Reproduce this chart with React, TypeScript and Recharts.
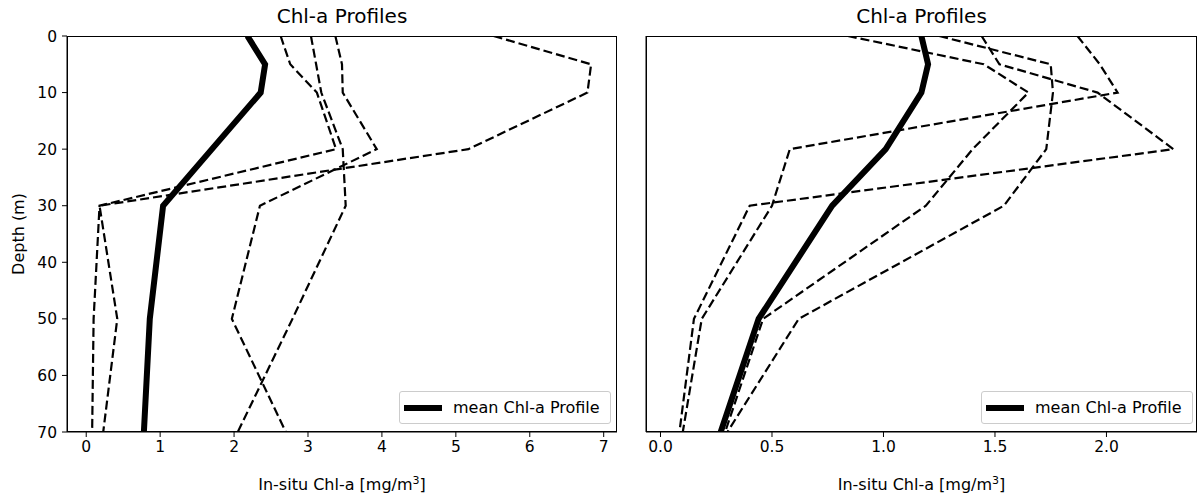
import * as React from "react";
import { LineChart, Line, XAxis, YAxis, Legend } from "recharts";

// depth levels (m) shared by every profile
const depths = [0, 5, 10, 20, 30, 50, 70];

// left panel, Chl-a in mg/m3
const leftMean = [2.18, 2.42, 2.36, 1.7, 1.04, 0.86, 0.78];
const leftProfile1 = [5.51, 6.83, 6.78, 5.17, 0.18, 0.42, 0.23];
const leftProfile2 = [2.63, 2.76, 3.12, 3.38, 0.18, 0.1, 0.08];
const leftProfile3 = [3.04, 3.11, 3.18, 3.47, 3.51, 2.79, 2.05];
const leftProfile4 = [3.37, 3.46, 3.47, 3.93, 2.35, 1.97, 2.7];

// right panel
const rightMean = [1.17, 1.2, 1.17, 1.01, 0.77, 0.44, 0.27];
const rightProfile1 = [0.84, 1.45, 1.65, 1.4, 1.19, 0.46, 0.29];
const rightProfile2 = [1.25, 1.75, 1.76, 1.73, 1.54, 0.62, 0.3];
const rightProfile3 = [1.44, 1.52, 1.96, 2.3, 0.4, 0.15, 0.085];
const rightProfile4 = [1.87, 1.97, 2.05, 0.58, 0.5, 0.185, 0.1];

const depthTicks = [0, 10, 20, 30, 40, 50, 60, 70];
const leftXTicks = [0, 1, 2, 3, 4, 5, 6, 7];
const rightXTicks = [0, 0.5, 1, 1.5, 2];

const TITLE = "Chl-a Profiles";
const MEAN_NAME = "mean Chl-a Profile";

const buildRows = (mean: number[], profiles: number[][]) =>
  depths.map((depth, i) => {
    const row: Record<string, number> = { depth, mean: mean[i] };
    profiles.forEach((p, k) => {
      row[`p${k}`] = p[i];
    });
    return row;
  });

const leftRows = buildRows(leftMean, [leftProfile1, leftProfile2, leftProfile3, leftProfile4]);
const rightRows = buildRows(rightMean, [rightProfile1, rightProfile2, rightProfile3, rightProfile4]);

const FONT = "'DejaVu Sans', sans-serif";
const tickStyle = { fill: "#000", fontSize: 15.5 };

const XLabel = ({ viewBox }: any) => {
  const cx = viewBox.x + viewBox.width / 2;
  return (
    <text x={cx} y={viewBox.y + 58} textAnchor="middle" fontSize={16} fill="#000">
      In-situ Chl-a [mg/m
      <tspan dy={-6} fontSize={11}>3</tspan>
      <tspan dy={6}>]</tspan>
    </text>
  );
};

const YLabel = ({ viewBox }: any) => (
  <text
    transform={`translate(${viewBox.x + 18}, ${viewBox.y + viewBox.height / 2}) rotate(-90)`}
    textAnchor="middle"
    dominantBaseline="central"
    fontSize={16}
    fill="#000"
  >
    Depth (m)
  </text>
);

const renderLegend = (props: any) => {
  const items = (props.payload || []).filter((p: any) => p.type !== "none");
  return (
    <div
      style={{
        position: "relative",
        width: 212,
        height: 33,
        boxSizing: "border-box",
        border: "1px solid #ccc",
        borderRadius: 3,
        background: "rgba(255,255,255,0.8)",
        fontFamily: FONT,
        fontSize: 16,
      }}
    >
      {items.map((item: any) => (
        <React.Fragment key={item.value}>
          <svg width={44} height={33} style={{ position: "absolute", left: 0, top: 0 }}>
            <line x1={4} y1={16} x2={42} y2={16} stroke="#000" strokeWidth={6} />
          </svg>
          <span style={{ position: "absolute", left: 53, top: 6, whiteSpace: "nowrap", color: "#000" }}>
            {item.value}
          </span>
        </React.Fragment>
      ))}
    </div>
  );
};

interface PanelProps {
  rows: any[];
  width: number;
  yWidth: number;
  xDomain: [number, number];
  xTicks: number[];
  showDepthLabels: boolean;
  legendLeft: number;
  tickFormat: (v: number) => string;
}

function ProfilePanel({ rows, width, yWidth, xDomain, xTicks, showDepthLabels, legendLeft, tickFormat }: PanelProps) {
  const height = 497;
  const margin = { top: 36, right: width === 620 ? 3 : 1, bottom: 5, left: 0 };
  const plotW = width - yWidth - margin.right;
  const plotH = height - margin.top - margin.bottom - 60;
  return (
    <div style={{ position: "relative", width, height }}>
      <div
        style={{
          position: "absolute",
          left: yWidth,
          width: plotW,
          top: 4,
          textAlign: "center",
          fontSize: 20,
          color: "#000",
        }}
      >
        {TITLE}
      </div>
      <LineChart width={width} height={height} data={rows} layout="vertical" margin={margin}>
        <XAxis
          type="number"
          domain={xDomain}
          allowDataOverflow
          ticks={xTicks}
          tickFormatter={tickFormat}
          height={60}
          tickSize={5}
          tickMargin={4}
          stroke="#000"
          tick={tickStyle}
          label={<XLabel />}
        />
        <YAxis
          type="number"
          dataKey="depth"
          domain={[0, 70]}
          allowDataOverflow
          ticks={depthTicks}
          width={yWidth}
          tickSize={5}
          tickMargin={5}
          stroke="#000"
          tick={showDepthLabels ? tickStyle : false}
          label={showDepthLabels ? <YLabel /> : undefined}
        />
        <Legend
          layout="vertical"
          align="center"
          verticalAlign="middle"
          content={renderLegend}
          wrapperStyle={{ left: legendLeft, top: 391, width: 212, height: 33 }}
        />
        {[0, 1, 2, 3].map((k) => (
          <Line
            key={k}
            dataKey={`p${k}`}
            stroke="#000"
            strokeWidth={2.2}
            strokeDasharray="9 4"
            dot={false}
            legendType="none"
            isAnimationActive={false}
          />
        ))}
        <Line
          dataKey="mean"
          name={MEAN_NAME}
          stroke="#000"
          strokeWidth={6}
          dot={false}
          isAnimationActive={false}
        />
      </LineChart>
      <div
        style={{
          position: "absolute",
          left: yWidth,
          top: margin.top,
          width: plotW,
          height: plotH,
          boxSizing: "border-box",
          border: "1px solid #000",
          pointerEvents: "none",
        }}
      />
    </div>
  );
}

export default function App() {
  return (
    <div
      style={{
        position: "absolute",
        left: 0,
        top: 0,
        width: 1198,
        height: 497,
        background: "#fff",
        fontFamily: FONT,
        display: "flex",
      }}
    >
      <ProfilePanel
        rows={leftRows}
        width={620}
        yWidth={67}
        xDomain={[-0.26, 7.18]}
        xTicks={leftXTicks}
        showDepthLabels
        legendLeft={399}
        tickFormat={(v) => String(v)}
      />
      <ProfilePanel
        rows={rightRows}
        width={578}
        yWidth={26}
        xDomain={[-0.065, 2.406]}
        xTicks={rightXTicks}
        showDepthLabels={false}
        legendLeft={361}
        tickFormat={(v) => v.toFixed(1)}
      />
    </div>
  );
}
